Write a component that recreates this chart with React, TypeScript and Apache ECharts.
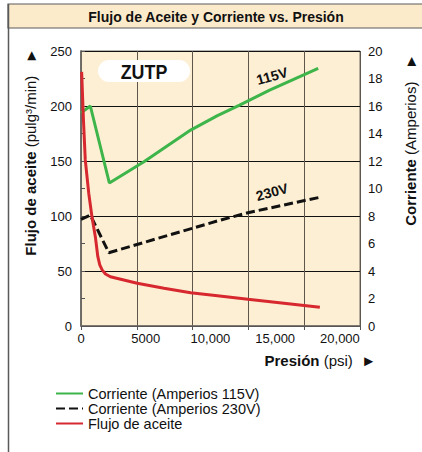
import React, { useEffect, useRef } from 'react';
import * as echarts from 'echarts';

// Flujo de aceite (left axis, pulg³/min) vs. presión (psi)
const flowPressure = [50, 190, 330, 600, 850, 1110, 1300, 1450, 1630, 1890, 2270, 4340, 6410, 8470, 10540, 12890, 18450];
const flowValues = [231, 187, 151, 120.5, 99, 81, 63, 55.5, 51, 47.3, 44.8, 38.8, 34.3, 30.3, 27.5, 24.3, 17];

// Corriente 115V (right axis, amperios)
const amp115Pressure = [0, 720, 2190, 4860, 8470, 10540, 12250, 14570, 18320];
const amp115Values = [15.5, 16.0, 10.4, 11.95, 14.25, 15.3, 16.07, 17.16, 18.74];

// Corriente 230V (right axis, amperios)
const amp230Pressure = [0, 720, 2150, 10540, 12890, 18450];
const amp230Values = [7.76, 8.07, 5.33, 7.64, 8.24, 9.36];

const xTickLabels = [0, 5000, 10000, 15000, 20000];
const leftTicks = { min: 0, max: 250, interval: 50 };
const rightTicks = { min: 0, max: 20, interval: 2 };

const seriesNames = ['Corriente (Amperios 115V)', 'Corriente (Amperios 230V)', 'Flujo de aceite'];

const FONT = '"Liberation Sans", Arial, Helvetica, sans-serif';
const BEIGE = '#FDEFD3';

const fmtX = (v: number) => {
  if (!xTickLabels.includes(v)) return '';
  if (v === 0) return '0';
  if (v < 10000) return String(v);
  return v.toLocaleString('en-US');
};

export default function App() {
  const ref = useRef<HTMLDivElement>(null);
  useEffect(() => {
    const chart = echarts.init(ref.current!, null, { renderer: 'svg' });
    const pair = (xs: number[], ys: number[]) => xs.map((x, i) => [x, ys[i]]);
    chart.setOption({
      animation: false,
      backgroundColor: '#ffffff',
      textStyle: { fontFamily: FONT },
      grid: {
        left: 81,
        top: 51,
        width: 279,
        height: 275,
        show: true,
        backgroundColor: BEIGE,
        borderColor: '#6e6a66',
        borderWidth: 1,
      },
      legend: {
        orient: 'vertical',
        left: 55,
        top: 386,
        padding: 0,
        itemWidth: 27,
        itemHeight: 10,
        itemGap: 0,
        itemStyle: { opacity: 0 },
        textStyle: { fontSize: 14.5, color: '#111', fontFamily: FONT, lineHeight: 15 },
        data: seriesNames,
      },
      xAxis: [
        {
          type: 'value',
          min: 0,
          max: 21550,
          interval: 5000,
          position: 'bottom',
          axisLine: { show: true, lineStyle: { color: '#6e6a66', width: 1.5 } },
          axisTick: { show: false },
          splitLine: { show: false },
          axisLabel: {
            formatter: fmtX,
            color: '#111',
            fontSize: 13,
            margin: 6,
            fontFamily: FONT,
          },
        },
        {
          type: 'value',
          min: 0,
          max: 5,
          interval: 1,
          position: 'bottom',
          axisLine: { show: false },
          axisLabel: { show: false },
          axisTick: { show: true, length: 4, lineStyle: { color: '#555' } },
          splitLine: { show: true, lineStyle: { color: '#5e554b', width: 1 } },
        },
      ],
      yAxis: [
        {
          type: 'value',
          ...leftTicks,
          position: 'left',
          axisLine: { show: true, lineStyle: { color: '#6e6a66', width: 1.5 } },
          axisTick: { show: false },
          splitLine: { show: true, lineStyle: { color: '#111', width: 1 } },
          axisLabel: { color: '#111', fontSize: 13, margin: 9, fontFamily: FONT },
        },
        {
          type: 'value',
          ...rightTicks,
          position: 'right',
          axisLine: { show: true, lineStyle: { color: '#6e6a66', width: 1.5 } },
          axisTick: { show: true, inside: false, length: 4, lineStyle: { color: '#555' } },
          splitLine: { show: false },
          axisLabel: { color: '#111', fontSize: 13, margin: 8, fontFamily: FONT },
        },
      ],
      series: [
        {
          name: seriesNames[0],
          type: 'line',
          xAxisIndex: 0,
          yAxisIndex: 1,
          data: pair(amp115Pressure, amp115Values),
          symbol: 'none',
          lineStyle: { color: '#3DB54A', width: 3 },
          itemStyle: { color: '#3DB54A' },
          z: 3,
        },
        {
          name: seriesNames[1],
          type: 'line',
          xAxisIndex: 0,
          yAxisIndex: 1,
          data: pair(amp230Pressure, amp230Values),
          symbol: 'none',
          lineStyle: { color: '#111', width: 3, type: [9, 4] },
          itemStyle: { color: '#111' },
          z: 3,
        },
        {
          name: seriesNames[2],
          type: 'line',
          xAxisIndex: 0,
          yAxisIndex: 0,
          data: pair(flowPressure, flowValues),
          symbol: 'none',
          lineStyle: { color: '#D7282F', width: 3 },
          itemStyle: { color: '#D7282F' },
          z: 4,
        },
      ],
      graphic: [
        {
          type: 'rect',
          shape: { x: 8, y: 4, width: 420, height: 24 },
          style: { fill: '#FCEBCB', stroke: '#5a5a5a', lineWidth: 1.2 },
        },
        {
          type: 'line',
          shape: { x1: 8.5, y1: 4, x2: 8.5, y2: 452 },
          style: { stroke: '#5a5a5a', lineWidth: 1.5 },
        },
        {
          type: 'text',
          x: 216,
          y: 16.5,
          style: {
            text: 'Flujo de Aceite y Corriente vs. Presión',
            fill: '#111',
            font: `bold 14px ${FONT}`,
            align: 'center',
            verticalAlign: 'middle',
          },
        },
        {
          type: 'text',
          x: 30,
          y: 152,
          rotation: Math.PI / 2,
          style: {
            text: '{b|Flujo de aceite} (pulg³/min)   ►',
            fill: '#111',
            font: `15px ${FONT}`,
            align: 'center',
            verticalAlign: 'middle',
            rich: { b: { fontWeight: 'bold', fontSize: 15, fontFamily: FONT, fill: '#111' } },
          },
        },
        {
          type: 'text',
          x: 410,
          y: 140,
          rotation: Math.PI / 2,
          style: {
            text: '{b|Corriente} (Amperios)   ►',
            fill: '#111',
            font: `15px ${FONT}`,
            align: 'center',
            verticalAlign: 'middle',
            rich: { b: { fontWeight: 'bold', fontSize: 15, fontFamily: FONT, fill: '#111' } },
          },
        },
        {
          type: 'text',
          x: 376,
          y: 360,
          style: {
            text: '{b|Presión} (psi)  ►',
            fill: '#111',
            font: `15px ${FONT}`,
            align: 'right',
            verticalAlign: 'middle',
            rich: { b: { fontWeight: 'bold', fontSize: 15, fontFamily: FONT, fill: '#111' } },
          },
        },
        {
          type: 'rect',
          shape: { x: 98, y: 60, width: 92, height: 22, r: 11 },
          style: { fill: '#ffffff' },
          z: 10,
        },
        {
          type: 'text',
          x: 144,
          y: 71.5,
          scaleX: 0.85,
          z: 11,
          style: {
            text: 'ZUTP',
            fill: '#111',
            font: `bold 21px ${FONT}`,
            align: 'center',
            verticalAlign: 'middle',
          },
        },
        {
          type: 'text',
          x: 272,
          y: 76,
          rotation: 0.27,
          z: 11,
          style: {
            text: '115V',
            fill: '#111',
            font: `bold 14px ${FONT}`,
            align: 'center',
            verticalAlign: 'middle',
          },
        },
        {
          type: 'text',
          x: 272,
          y: 192,
          rotation: 0.27,
          z: 11,
          style: {
            text: '230V',
            fill: '#111',
            font: `bold 14px ${FONT}`,
            align: 'center',
            verticalAlign: 'middle',
          },
        },
      ],
    });
    return () => chart.dispose();
  }, []);
  return (
    <div
      ref={ref}
      style={{ position: 'absolute', left: 0, top: 0, width: 422, height: 452, background: '#fff' }}
    />
  );
}
